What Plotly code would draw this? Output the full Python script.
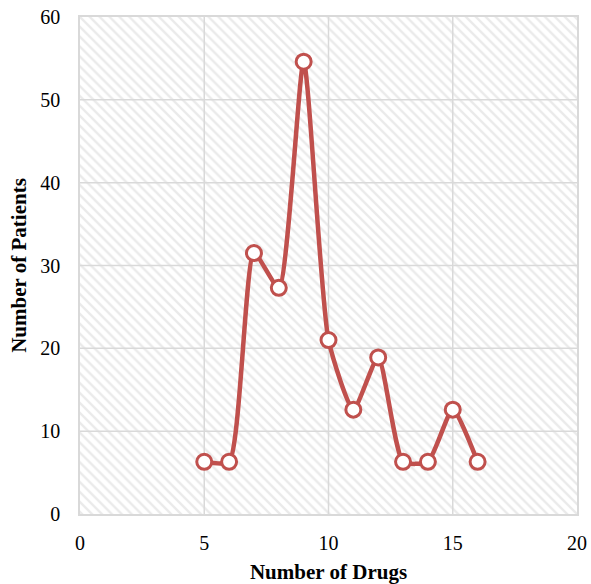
import plotly.graph_objects as go

drugs = [5, 6, 7, 8, 9, 10, 11, 12, 13, 14, 15, 16]
patients = [6.3, 6.3, 31.5, 27.3, 54.6, 21.0, 12.6, 18.9, 6.3, 6.3, 12.6, 6.3]

x_range = [0, 20]
y_range = [0, 60]
x_ticks = [0, 5, 10, 15, 20]
y_ticks = [0, 10, 20, 30, 40, 50, 60]

grid_color = "#d9d9d9"

fig = go.Figure()

# hatched plot background
fig.add_trace(go.Scatter(
    x=[x_range[0], x_range[1], x_range[1], x_range[0], x_range[0]],
    y=[y_range[0], y_range[0], y_range[1], y_range[1], y_range[0]],
    mode="lines", line=dict(width=0), fill="toself",
    fillcolor="rgba(0,0,0,0)",
    fillpattern=dict(shape="\\", fgcolor="#d6d6d6", bgcolor="white", size=7, solidity=0.35),
    hoverinfo="skip", showlegend=False,
))

# gridlines drawn above the hatch
gx, gy = [], []
for t in x_ticks[1:-1]:
    gx += [t, t, None]
    gy += [y_range[0], y_range[1], None]
for t in y_ticks[1:-1]:
    gx += [x_range[0], x_range[1], None]
    gy += [t, t, None]
fig.add_trace(go.Scatter(
    x=gx, y=gy, mode="lines", line=dict(color=grid_color, width=1.5),
    hoverinfo="skip", showlegend=False,
))

fig.add_trace(go.Scatter(
    x=drugs, y=patients, mode="lines+markers",
    line=dict(color="#c0504d", width=4.5, shape="spline", smoothing=0.55),
    marker=dict(size=15, color="white", line=dict(color="#c0504d", width=3)),
    showlegend=False,
))

font_family = "Liberation Serif"
fig.update_layout(
    width=591, height=584,
    margin=dict(l=80, r=14, t=17, b=70),
    paper_bgcolor="white", plot_bgcolor="white",
    font=dict(family=font_family, size=20, color="black"),
)
fig.update_xaxes(
    range=x_range, tickvals=x_ticks, showgrid=False, automargin=False,
    showline=True, linecolor=grid_color, linewidth=1.5, mirror=True, zeroline=False,
    ticks="outside", ticklen=10, tickcolor="rgba(0,0,0,0)",
    tickfont=dict(size=20, family=font_family),
    title=dict(text="<b>Number of Drugs</b>", font=dict(size=21, family=font_family), standoff=13),
)
fig.update_yaxes(
    range=y_range, tickvals=y_ticks, showgrid=False, automargin=False,
    showline=True, linecolor=grid_color, linewidth=1.5, mirror=True, zeroline=False,
    ticks="outside", ticklen=14, tickcolor="rgba(0,0,0,0)",
    tickfont=dict(size=20, family=font_family),
    title=dict(text="<b>Number of Patients</b>", font=dict(size=21, family=font_family), standoff=8),
)

fig.write_html("out.html", config={"displayModeBar": False},
               post_script="document.body.style.margin='0';")
